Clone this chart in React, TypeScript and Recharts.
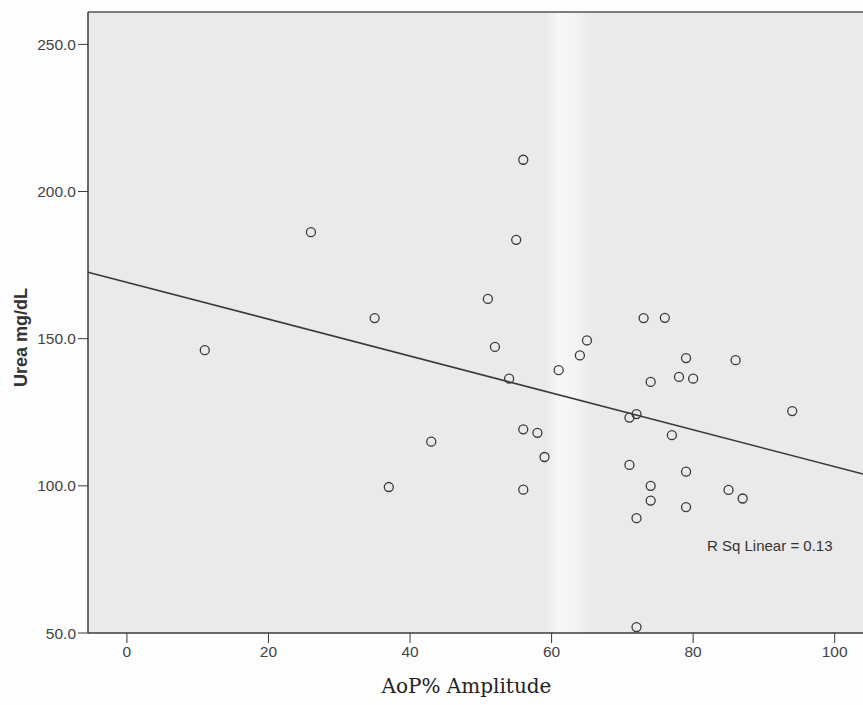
import { ScatterChart, Scatter, XAxis, YAxis, CartesianGrid, ReferenceLine, ReferenceArea } from 'recharts'

const INK = '#3a3a3a'
const TICK = '#444444'
const PLOT_BG = '#eaeaea'
const SANS = '"Liberation Sans", Arial, sans-serif'

// AoP% amplitude (x) and urea mg/dL (y)
const aopValues = [56, 55, 51, 52, 54, 61, 64, 65, 73, 76, 79, 86, 74, 78, 80, 94, 72, 71, 77, 56, 58, 43, 59, 71, 79, 74, 56, 85, 87, 74, 79, 72, 72, 26, 35, 11, 37]
const ureaValues = [210.8, 183.6, 163.5, 147.2, 136.4, 139.3, 144.3, 149.4, 157, 157.1, 143.4, 142.7, 135.3, 137, 136.4, 125.4, 124.4, 123.2, 117.2, 119.2, 118, 115, 109.8, 107.1, 104.8, 100, 98.7, 98.6, 95.7, 95, 92.8, 89, 52, 186.2, 157, 146.1, 99.6]

// fitted line end points, read at the plot edges
const fitX = [-5.5, 104]
const fitY = [172.6, 104]

const xTicks = [0, 20, 40, 60, 80, 100]
const yTicks = [50, 100, 150, 200, 250]
const xDomain = [-5.5, 104]
const yDomain = [50, 261]

const points = aopValues.map((x, i) => ({ x, y: ureaValues[i] }))

const OpenCircle = (props: any) => {
    if (props.cx == null || props.cy == null) return null
    return <circle cx={props.cx} cy={props.cy} r={4.5} fill="none" stroke={INK} strokeWidth={1.3} />
}

const YLabel = ({ viewBox }: any) => (
    <text
        transform={`translate(${viewBox.x + 27},${viewBox.y + viewBox.height / 2 + 15}) rotate(-90)`}
        textAnchor="middle"
        style={{ fontFamily: SANS, fontWeight: 'bold', fontSize: 18, fill: '#333' }}
    >
        Urea mg/dL
    </text>
)

const XLabel = ({ viewBox }: any) => (
    <text
        x={viewBox.x + viewBox.width / 2 - 9}
        y={viewBox.y + 60}
        textAnchor="middle"
        style={{ fontFamily: '"DejaVu Serif", serif', fontSize: 20, fill: '#222' }}
    >
        AoP% Amplitude
    </text>
)

const App = () => {
    return (
        <div style={{ position: 'absolute', left: 0, top: 0, width: 863, height: 705, background: '#fdfdfd' }}>
            <ScatterChart width={863} height={705} margin={{ top: 12, right: 0, bottom: 0, left: 0 }}>
                <defs>
                    <linearGradient id="band" x1="0" y1="0" x2="1" y2="0">
                        <stop offset="0%" stopColor="#ffffff" stopOpacity={0} />
                        <stop offset="30%" stopColor="#ffffff" stopOpacity={0.6} />
                        <stop offset="60%" stopColor="#ffffff" stopOpacity={0.45} />
                        <stop offset="100%" stopColor="#ffffff" stopOpacity={0} />
                    </linearGradient>
                </defs>
                <CartesianGrid horizontal={false} vertical={false} fill={PLOT_BG} />
                <ReferenceArea x1={59} x2={66} y1={yDomain[0]} y2={yDomain[1]} fill="url(#band)" fillOpacity={1} stroke="none" />
                <XAxis
                    type="number"
                    dataKey="x"
                    domain={xDomain}
                    ticks={xTicks}
                    allowDataOverflow
                    height={72}
                    tickSize={10}
                    tickMargin={3}
                    axisLine={{ stroke: INK, strokeWidth: 1.5 }}
                    tickLine={{ stroke: INK }}
                    tick={{ fill: TICK, fontSize: 15.5, fontFamily: SANS }}
                    label={<XLabel />}
                />
                <YAxis
                    type="number"
                    dataKey="y"
                    domain={yDomain}
                    ticks={yTicks}
                    allowDataOverflow
                    width={88}
                    tickSize={10}
                    tickMargin={2}
                    axisLine={{ stroke: INK, strokeWidth: 1.5 }}
                    tickLine={{ stroke: INK }}
                    tick={{ fill: TICK, fontSize: 15.5, fontFamily: SANS }}
                    tickFormatter={(v: number) => v.toFixed(1)}
                    label={<YLabel />}
                />
                <ReferenceLine y={yDomain[1]} stroke="#555" strokeWidth={1.5} />
                <ReferenceLine
                    segment={[{ x: fitX[0], y: fitY[0] }, { x: fitX[1], y: fitY[1] }]}
                    stroke={INK}
                    strokeWidth={1.6}
                    ifOverflow="visible"
                />
                <Scatter data={points} shape={<OpenCircle />} isAnimationActive={false} />
            </ScatterChart>
            <div style={{ position: 'absolute', left: 707, top: 537, fontFamily: SANS, fontSize: 15, color: '#333', whiteSpace: 'nowrap' }}>
                R Sq Linear = 0.13
            </div>
        </div>
    )
}

export default App
